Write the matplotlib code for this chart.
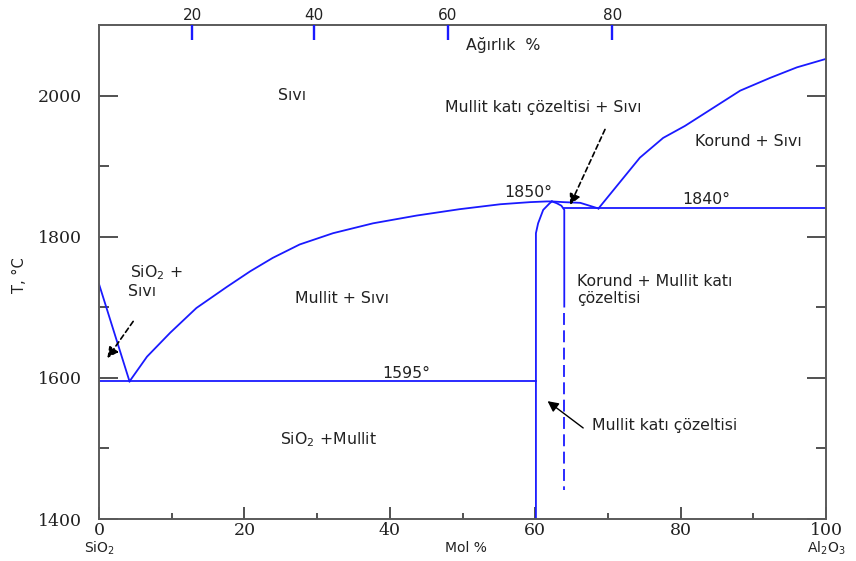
import matplotlib
matplotlib.use("Agg")
import matplotlib.pyplot as plt

# ---------------- data ----------------
sio2_liq_x = [0, 4.2]
sio2_liq_T = [1733, 1595]

mull_liq_x = [4.2, 6.6, 9.8, 13.4, 17.6, 20.8, 23.9, 27.6, 32.2, 37.7, 43.7,
              49.6, 55.2, 59.3, 61.6, 62.3, 63.9, 66.2, 68.7]
mull_liq_T = [1595, 1630, 1664, 1699, 1729, 1751, 1770, 1789, 1805, 1819, 1830,
              1839, 1846, 1849, 1850, 1850, 1849, 1848, 1840]

cor_liq_x = [68.7, 74.4, 77.6, 80.6, 88.2, 92.3, 96.0, 100]
cor_liq_T = [1840, 1912, 1940, 1957, 2007, 2025, 2040, 2052]

sol_left_x = [60.1, 60.1, 60.4, 61.1, 62.0, 62.3]
sol_left_T = [1400, 1805, 1819, 1838, 1847.5, 1850]
sol_right_x = [62.3, 62.95, 63.6, 64.0, 64.0]
sol_right_T = [1850, 1847.5, 1844, 1838, 1701]
sol_dash_x = [64.0, 64.0]
sol_dash_T = [1692, 1441]

eut1_x = [0, 60.1]
eut1_T = [1595, 1595]
eut2_x = [64.0, 100]
eut2_T = [1840, 1840]

mol_major = [0, 20, 40, 60, 80, 100]
mol_minor = [10, 30, 50, 70, 90]
T_major = [1400, 1600, 1800, 2000]
T_minor = [1500, 1700, 1900]
wt_pos = [12.8, 29.6, 48.0, 70.6]
wt_labels = ["20", "40", "60", "80"]

BLUE = "#1a1aff"
SANS = "DejaVu Sans"
SERIF = "DejaVu Serif"
TXT = "#222222"

fig = plt.figure(figsize=(8.56, 5.61), dpi=100)
ax = fig.add_axes([99/856, 1 - 519/561, (826-99)/856, (519-25)/561])
ax.set_xlim(0, 100)
ax.set_ylim(1400, 2100)

lw = 1.3
ax.plot(sio2_liq_x, sio2_liq_T, color=BLUE, lw=lw)
ax.plot(mull_liq_x, mull_liq_T, color=BLUE, lw=lw)
ax.plot(cor_liq_x, cor_liq_T, color=BLUE, lw=lw)
ax.plot(sol_left_x, sol_left_T, color=BLUE, lw=lw)
ax.plot(sol_right_x, sol_right_T, color=BLUE, lw=lw)
ax.plot(sol_dash_x, sol_dash_T, color=BLUE, lw=lw, linestyle=(0, (6.6, 3.0)))
ax.plot(eut1_x, eut1_T, color=BLUE, lw=lw)
ax.plot(eut2_x, eut2_T, color=BLUE, lw=lw)

# spines
for s in ax.spines.values():
    s.set_color("#5a5a5a")
    s.set_linewidth(1.4)

ax.set_xticks(mol_major)
ax.set_xticks(mol_minor, minor=True)
ax.set_yticks(T_major)
ax.set_yticks(T_minor, minor=True)
ax.set_xticklabels([str(v) for v in mol_major], fontfamily=SERIF, fontsize=12.5, color=TXT)
ax.set_yticklabels([str(v) for v in T_major], fontfamily=SERIF, fontsize=12.5, color=TXT)

ax.tick_params(axis="x", which="major", direction="in", length=8.3, width=1.2,
               color="#333333", top=True, bottom=True, pad=2)
ax.tick_params(axis="x", which="minor", direction="in", length=4.3, width=1.2,
               color="#333333", top=True, bottom=True)
ax.tick_params(axis="y", which="major", direction="in", length=14, width=1.2,
               color="#333333", left=True, right=True, pad=12)
ax.tick_params(axis="y", which="minor", direction="in", length=7, width=1.2,
               color="#333333", left=True, right=True)

# weight % ticks on top
ax2 = ax.twiny()
ax2.set_xlim(ax.get_xlim())
ax2.set_xticks(wt_pos)
ax2.set_xticklabels(wt_labels, fontfamily=SANS, fontsize=11, color=TXT)
ax2.tick_params(axis="x", direction="in", length=11, width=1.7, color=BLUE, pad=1.5)
for s in ax2.spines.values():
    s.set_visible(False)

# labels
FS = 11.3
def t(x, y, s, ha="center", size=FS, **kw):
    ax.text(x, y, s, ha=ha, va="center", fontsize=size, fontfamily=SANS, color=TXT, **kw)

t(55.6, 2072, "Ağırlık  %")
t(26.5, 2000, "Sıvı")
t(4.3, 1749, "SiO$_2$ +", ha="left")
t(4.0, 1722, "Sıvı", ha="left")
t(33.4, 1712, "Mullit + Sıvı")
t(31.6, 1512, "SiO$_2$ +Mullit")
t(42.2, 1606, "1595°")
t(59.0, 1862, "1850°")
t(83.5, 1853, "1840°")
t(89.3, 1935, "Korund + Sıvı")
t(65.75, 1736, "Korund + Mullit katı", ha="left")
t(65.75, 1713, "çözeltisi", ha="left")
t(67.8, 1533, "Mullit katı çözeltisi", ha="left")
t(61.1, 1983, "Mullit katı çözeltisi + Sıvı")

# bottom component labels
xt = ax.get_xaxis_transform()
for xv, s in [(0, "SiO$_2$"), (50.5, "Mol %"), (100, "Al$_2$O$_3$")]:
    ax.text(xv, -0.059, s, transform=xt, ha="center", va="center",
            fontsize=10, fontfamily=SANS, color=TXT)

fig.text(19/856, 1 - 275/561, "T, °C", rotation=90, ha="center", va="center",
         fontsize=10.5, fontfamily=SANS, color=TXT)

# arrows
ax.annotate("", xy=(64.8, 1845), xytext=(69.6, 1952),
            arrowprops=dict(arrowstyle="-|>", color="black", lw=1.2,
                            linestyle=(0, (3, 2)), mutation_scale=16,
                            shrinkA=0, shrinkB=0))
ax.annotate("", xy=(1.15, 1628), xytext=(4.7, 1680),
            arrowprops=dict(arrowstyle="-|>", color="black", lw=1.2,
                            linestyle=(0, (3, 2)), mutation_scale=16,
                            shrinkA=0, shrinkB=0))
ax.annotate("", xy=(61.7, 1567), xytext=(66.6, 1529),
            arrowprops=dict(arrowstyle="-|>", color="black", lw=1.0,
                            mutation_scale=16, shrinkA=0, shrinkB=0))

fig.savefig("out.png", dpi=100)
